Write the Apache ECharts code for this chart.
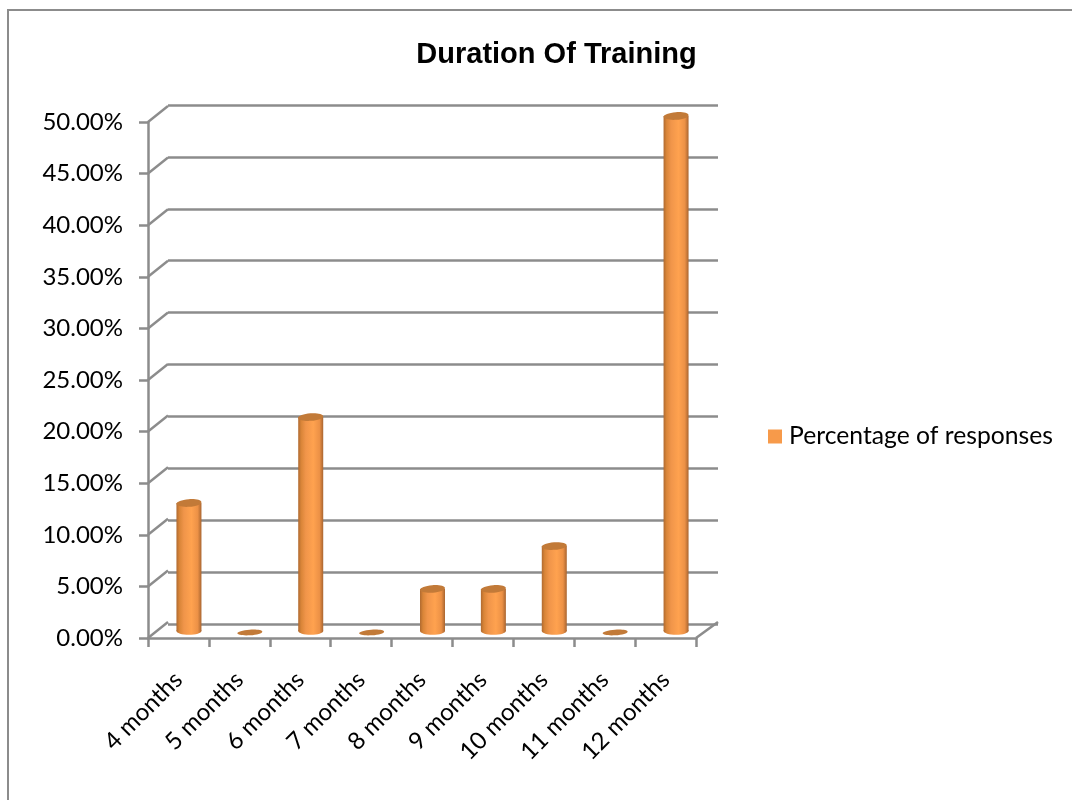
<!DOCTYPE html>
<html><head><meta charset="utf-8">
<style>html,body{margin:0;padding:0;background:#fff}#c{width:1072px;height:800px}</style>
<script src="https://cdn.jsdelivr.net/npm/echarts@6/dist/echarts.min.js"></script>
</head><body><div id="c"></div>
<script>
const title = 'Duration Of Training';
const seriesName = 'Percentage of responses';
const categories = ['4 months','5 months','6 months','7 months','8 months','9 months','10 months','11 months','12 months'];
const values = [12.5,0,20.83,0,4.17,4.17,8.33,0,50];
const yTicks = [0,5,10,15,20,25,30,35,40,45,50];

const GRAY = '#8c8c8c';
const LW = 2.5;
const DEPTH_X = 20, DEPTH_Y = -16;
const BAR_DX = 10.5, BAR_DY = -7, TOP_DY = -6, RX = 12.5, RY = 3.8;
const bodyFill = new echarts.graphic.LinearGradient(0,0,1,0,[
  {offset:0,color:'#b06a30'},{offset:.12,color:'#d98538'},{offset:.3,color:'#f0954a'},
  {offset:.6,color:'#ffa24f'},{offset:.85,color:'#ec9146'},{offset:1,color:'#a96530'}]);

const chart = echarts.init(document.getElementById('c'),null,{renderer:'canvas'});
chart.setOption({
  animation:false,
  backgroundColor:'#fff',
  title:{text:title,left:556.5,top:40,padding:0,textAlign:'center',
    textStyle:{fontFamily:'Liberation Sans',fontWeight:'bold',fontSize:29,color:'#000'}},
  legend:{data:[{name:seriesName,icon:'rect',itemStyle:{color:'#f79a4a'}}],left:768,top:424,padding:0,itemWidth:14,itemHeight:14,itemGap:0,
    textStyle:{fontFamily:'Lato',fontSize:24.7,color:'#000',padding:[0,0,0,2]}},
  grid:[
    {left:148,right:376,top:122,bottom:162},
    {left:168,right:354,top:105,bottom:176}
  ],
  xAxis:[
    {type:'category',gridIndex:0,data:categories,boundaryGap:true,
      axisLine:{lineStyle:{color:GRAY,width:LW}},
      axisTick:{show:true,length:9,alignWithLabel:false,lineStyle:{color:GRAY,width:LW}},
      axisLabel:{rotate:45,interval:0,margin:38,fontFamily:'Lato',fontSize:24,color:'#000'},
      splitLine:{show:false}},
    {type:'category',gridIndex:1,data:categories,show:false}
  ],
  yAxis:[
    {type:'value',gridIndex:0,min:0,max:50,interval:5,
      axisLine:{show:true,lineStyle:{color:GRAY,width:LW}},
      axisTick:{show:true,length:9,lineStyle:{color:GRAY,width:LW}},
      axisLabel:{margin:25,fontFamily:'Lato',fontSize:24,color:'#000',padding:[4,0,0,0],formatter:v=>v.toFixed(2)+'%'},
      splitLine:{show:false}},
    {type:'value',gridIndex:1,min:0,max:50,interval:5,
      axisLine:{show:false},axisTick:{show:false},axisLabel:{show:false},
      splitLine:{show:true,lineStyle:{color:GRAY,width:LW}}}
  ],
  series:[
    {type:'custom',name:'wall',xAxisIndex:0,yAxisIndex:0,z:1,silent:true,clip:false,
      data:yTicks.map(t=>[0,t]),
      renderItem:(p,api)=>{
        const c=api.coord([0,api.value(1)]),w=api.size([1,0])[0],x=c[0]-w/2;
        const children=[{type:'line',shape:{x1:x,y1:c[1],x2:x+DEPTH_X,y2:c[1]+DEPTH_Y},style:{stroke:GRAY,lineWidth:LW}}];
        if(api.value(1)===0){const xr=x+w*categories.length;
          children.push({type:'line',shape:{x1:xr,y1:c[1],x2:xr+DEPTH_X+2,y2:c[1]+DEPTH_Y},style:{stroke:GRAY,lineWidth:LW}});}
        return {type:'group',children};
      }},
    {type:'custom',name:seriesName,xAxisIndex:0,yAxisIndex:0,z:5,clip:false,
      itemStyle:{color:'#f79a4a'},
      data:values.map((v,i)=>[i,v]),
      renderItem:(p,api)=>{
        const v=api.value(1);
        const top=api.coord([api.value(0),v]),base=api.coord([api.value(0),0]);
        const cx=top[0]+BAR_DX, ty=top[1]+TOP_DY, by=base[1]+BAR_DY;
        const children=[];
        const cap={type:'ellipse',x:cx,y:v>0?ty:by+1.5,rotation:0.07,
          shape:{cx:0,cy:0,rx:RX,ry:v>0?RY:2.8},style:{fill:'#c27a38'}};
        if(v>0){
          children.push({type:'ellipse',shape:{cx:cx,cy:by,rx:RX,ry:RY},style:{fill:bodyFill}});
          children.push({type:'rect',shape:{x:cx-RX,y:ty,width:RX*2,height:by-ty},style:{fill:bodyFill}});
        }
        children.push(cap);
        return {type:'group',children};
      }}
  ],
  graphic:[
    {type:'polyline',silent:true,shape:{points:[[8,800],[8,10],[1072,10]]},style:{fill:null,stroke:GRAY,lineWidth:2}}
  ]
});
</script></body></html>
